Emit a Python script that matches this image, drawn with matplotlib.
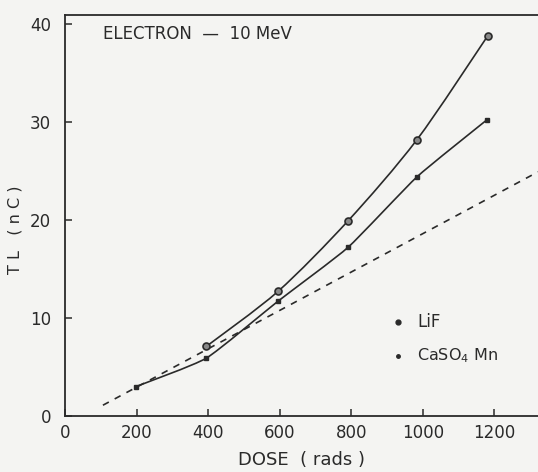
import matplotlib
matplotlib.use("Agg")
import numpy as np
import matplotlib.pyplot as plt
from matplotlib.path import Path
from matplotlib.patches import PathPatch

# values
lif_dose = [395, 595, 791, 984, 1182]
lif_tl = [7.1, 12.7, 19.9, 28.2, 38.8]

caso4_dose = [198, 395, 595, 791, 984, 1179]
caso4_tl = [3.0, 5.9, 11.7, 17.2, 24.4, 30.2]

# straight reference (dashed) line
ref_dose = [106, 1322]
ref_tl = [1.1, 24.9]

x_ticks = [0, 200, 400, 600, 800, 1000, 1200]
y_ticks = [0, 10, 20, 30, 40]

ink = "#2a2a2a"
paper = "#f4f4f2"


def smooth_path(xs, ys, k=10):
    # Catmull-Rom style curve through the points (low tension), as Bezier segments
    p = np.column_stack([xs, ys]).astype(float)
    p = np.vstack([p[0], p, p[-1]])
    verts = [p[1]]
    codes = [Path.MOVETO]
    for i in range(1, len(p) - 2):
        c1 = p[i] + (p[i + 1] - p[i - 1]) / k
        c2 = p[i + 1] - (p[i + 2] - p[i]) / k
        verts += [c1, c2, p[i + 1]]
        codes += [Path.CURVE4] * 3
    return Path(verts, codes)


plt.rcParams.update({"font.size": 12, "font.family": "DejaVu Sans"})

fig = plt.figure(figsize=(5.38, 4.72), dpi=100, facecolor=paper)
ax = fig.add_axes([65 / 538, 56 / 472, 473 / 538, 401 / 472])
ax.set_facecolor(paper)

ax.plot(ref_dose, ref_tl, linestyle=(0, (4, 4)), color=ink, linewidth=1.2)

ax.add_patch(PathPatch(smooth_path(caso4_dose, caso4_tl, k=12), facecolor="none",
                       edgecolor=ink, linewidth=1.2))
ax.add_patch(PathPatch(smooth_path(lif_dose, lif_tl, k=7), facecolor="none",
                       edgecolor=ink, linewidth=1.2))

ax.plot(caso4_dose, caso4_tl, linestyle="none",
        marker="s", markersize=3.2, markerfacecolor=ink, markeredgecolor=ink)
ax.plot(lif_dose, lif_tl, linestyle="none",
        marker="o", markersize=5, markerfacecolor="#888888",
        markeredgecolor=ink, markeredgewidth=1.2)

ax.set_xlim(0, 1322)
ax.set_ylim(0, 40.9)
ax.set_xticks(x_ticks)
ax.set_yticks(y_ticks)
ax.tick_params(direction="in", length=5, width=1.1, colors=ink)
ax.tick_params(axis="y", pad=10)
ax.tick_params(axis="x", pad=6)

for side in ["left", "bottom", "top"]:
    ax.spines[side].set_linewidth(1.3)
    ax.spines[side].set_color(ink)
ax.spines["right"].set_visible(False)

ax.set_xlabel("DOSE  ( rads )", color=ink, labelpad=6, fontsize=13)
ax.set_ylabel("T L   ( n C )", color=ink, fontsize=11.5)
ax.yaxis.set_label_coords(-0.09, 0.464)

ax.text(0.08, 0.975, "ELECTRON  \u2014  10 MeV", transform=ax.transAxes,
        ha="left", va="top", color=ink, fontsize=12)

# hand-drawn style key
ax.plot([0.705], [0.235], transform=ax.transAxes, marker="o", markersize=3.5,
        color=ink, linestyle="none")
ax.text(0.745, 0.235, "LiF", transform=ax.transAxes, ha="left", va="center",
        color=ink, fontsize=12)
ax.plot([0.705], [0.15], transform=ax.transAxes, marker="o", markersize=2.5,
        color=ink, linestyle="none")
ax.text(0.745, 0.15, "CaSO$_4$ Mn", transform=ax.transAxes, ha="left",
        va="center", color=ink, fontsize=11.5)

fig.savefig("out.png", dpi=100, facecolor=paper)
